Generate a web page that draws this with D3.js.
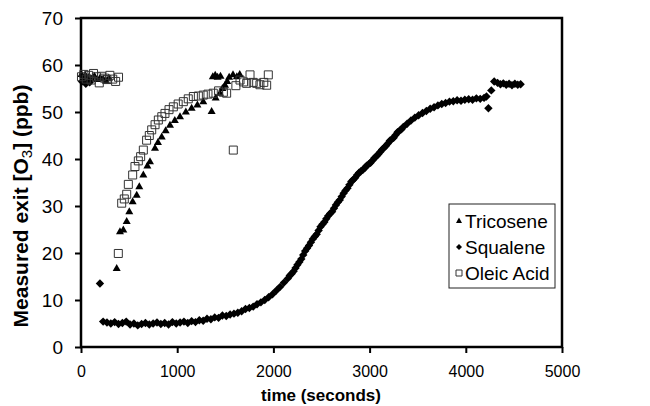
<!DOCTYPE html>
<html>
<head>
<meta charset="utf-8">
<script src="https://cdn.jsdelivr.net/npm/d3@7"></script>
<style>
	body { margin: 0; background: #fff; }
	text { font-family: Arial, "Liberation Sans", sans-serif; }
</style>
</head>
<body>
<div id="chart"></div>
<script>
// Data: [time (s), exit O3 (ppb)]
var tricosene = [
	[5,58],[25,57.2],[45,57.8],[65,56.8],[85,57.5],[110,57],[140,57.6],[170,56.9],[200,57.3],[230,57],[260,56.6],[290,57.2],
	[371,16.7],[405,24.5],[440,24.9],[475,26.7],[502,28.8],[537,30.9],[579,32.3],[606,34.1],[648,36.6],[690,38.5],
	[717,39.4],[769,42.3],[800,43.5],[839,44.7],[880,46],[925,47.2],[975,48.2],[1029,49],[1090,50],[1150,50.8],
	[1210,51.5],[1271,52.2],[1358,50.1],[1400,53],[1445,54],[1470,55],[1497,55.7],[1520,56.5],
	[1370,57.5],[1395,57.8],[1420,57.4],[1450,57.6],[1540,57.4],[1580,57.9],[1620,57.5],[1650,58]
];

var squalene = [
	[10,56.5],[30,57],[50,56],[70,56.8],[90,56.3],[197,13.5],
	[230,5.4],[270,5.2],[310,5.0],[350,5.3],[390,4.9],[430,5.1],[470,5.4],[510,4.8],[550,5.0],[590,4.6],
	[630,4.9],[670,5.1],[710,4.8],[750,5.0],[790,5.2],[830,4.9],[870,5.1],[910,4.8],[950,5.3],[990,5.0],
	[1030,5.2],[1070,5.4],[1110,5.1],[1150,5.5],[1190,5.3],[1230,5.7],[1270,5.6],[1310,6.0],[1350,5.9],
	[1390,6.3],[1430,6.2],[1470,6.7],[1510,6.6],[1550,6.9],[1590,7.1],[1630,7.3],[1670,7.6],[1710,8.1],
	[1750,8.3],[1790,8.6],[1830,9.1],[1870,9.5],[1910,10.0],[1950,10.6],[1990,11.2],[2030,12.0],[2070,12.8],
	[2110,13.7],[2150,14.6],[2170,15.2],[2190,15.6],[2210,16.1],[2230,16.8],[2250,17.5],[2270,18.1],
	[2290,18.7],[2310,19.6],[2330,20.4],[2350,21.0],[2370,21.6],[2390,22.3],[2410,23.0],[2430,23.5],
	[2450,24.0],[2470,24.8],[2490,25.6],[2510,26.1],[2530,26.6],[2550,27.3],[2570,27.9],[2590,28.4],
	[2610,28.8],[2630,29.5],[2650,30.2],[2670,30.8],[2690,31.3],[2710,32.0],[2730,32.7],[2750,33.3],
	[2770,33.8],[2790,34.5],[2810,35.2],[2830,35.6],[2850,36.0],[2870,36.6],[2890,37.1],[2910,37.4],
	[2930,37.7],[2950,38.1],[2970,38.6],[2990,38.9],[3010,39.2],[3030,39.7],[3050,40.2],[3070,40.6],
	[3090,41.0],[3110,41.5],[3130,42.0],[3150,42.4],[3170,42.8],[3190,43.3],[3210,43.9],[3230,44.2],
	[3250,44.5],[3270,45.1],[3290,45.7],[3310,46.0],[3330,46.3],[3350,46.8],
	[3390,47.5],[3430,48.2],[3470,48.8],[3510,49.3],[3550,49.8],[3590,50.2],[3630,50.7],[3670,51.0],
	[3710,51.4],[3750,51.7],[3790,51.9],[3830,52.2],[3870,52.3],[3910,52.5],[3950,52.4],[3990,52.6],
	[4030,52.7],[4070,52.6],[4110,52.9],[4150,52.8],[4190,53.0],[4215,53.3],[4235,50.8],[4265,54.6],
	[4295,56.5],[4330,56.2],[4360,55.9],[4390,56.1],[4420,55.8],[4450,56.0],[4480,55.7],[4510,56.0],
	[4540,55.8],[4570,55.9]
];

var oleic = [
	[5,57.5],[30,58],[55,57],[80,57.8],[105,56.8],[130,58.2],[160,57.5],[190,56.2],[215,57.6],[245,57.2],
	[270,56.9],[300,57.8],[330,57],[360,56.5],[390,57.4],
	[388,19.9],[423,30.6],[450,31.5],[475,32.5],[492,34.6],[537,36.6],[561,38.4],[596,39.6],[620,40.5],
	[648,41.9],[682,44],[710,45],[735,46.2],[770,47.3],[804,48.3],[840,49],[873,49.7],[915,50.5],[960,51.1],
	[1010,51.7],[1064,52.2],[1115,52.8],[1168,53.3],[1220,53.4],[1271,53.6],[1320,53.8],[1375,54],
	[1430,54.5],[1480,54.2],[1514,54],[1583,41.9],[1610,55.6],[1653,56.8],[1690,56.4],[1722,56.1],
	[1757,57.9],[1790,56.3],[1826,56.1],[1860,55.8],[1900,56.3],[1930,55.7],[1947,57.9]
];

var xTicks = [0, 1000, 2000, 3000, 4000, 5000];
var yTicks = [0, 10, 20, 30, 40, 50, 60, 70];
var seriesNames = ["Tricosene", "Squalene", "Oleic Acid"];

// Marker shapes
var shapes = {
	"Tricosene": {d: "M0,-4.5L4,2.5L-4,2.5Z", fill: "#000", stroke: "none"},
	"Squalene": {d: "M0,-4.2L4.2,0L0,4.2L-4.2,0Z", fill: "#000", stroke: "none"},
	"Oleic Acid": {d: "M-4,-4h8v8h-8Z", fill: "none", stroke: "#333"}
};
var legendShapes = {
	"Tricosene": "M0,-3.5L3,2L-3,2Z",
	"Squalene": "M0,-3L3,0L0,3L-3,0Z",
	"Oleic Acid": "M-3,-3h6v6h-6Z"
};

var w = 650, h = 406;
// plot box edges (window.top is taken, so prefixed names)
var pLeft = 81, pRight = 562, pTop = 18, pBottom = 347;

var svg = d3.select("#chart").append("svg").attr("width", w).attr("height", h);

var x = d3.scaleLinear().domain([0, 5000]).range([pLeft, pRight]);
var y = d3.scaleLinear().domain([0, 70]).range([pBottom, pTop]);

// Axes
var xAxis = svg.append("g")
	.attr("transform", "translate(0," + pBottom + ")")
	.call(d3.axisBottom(x).tickValues(xTicks).tickSize(6).tickPadding(13).tickFormat(d3.format("d")));
var yAxis = svg.append("g")
	.attr("transform", "translate(" + pLeft + ",0)")
	.call(d3.axisLeft(y).tickValues(yTicks).tickSize(6).tickPadding(12).tickFormat(d3.format("d")));

xAxis.selectAll("text").attr("font-size", 16).attr("fill", "#000");
yAxis.selectAll("text").attr("font-size", 19).attr("fill", "#000");
svg.selectAll(".tick line").attr("stroke", "#000").attr("stroke-width", 2);
svg.selectAll(".domain").remove();

// Frame round the plot
svg.append("rect")
	.attr("x", pLeft).attr("y", pTop)
	.attr("width", pRight - pLeft).attr("height", pBottom - pTop)
	.attr("fill", "none").attr("stroke", "#000").attr("stroke-width", 2.5);

// Points
var drawSeries = function(data, name) {
	var s = shapes[name];
	svg.append("g").selectAll("path")
		.data(data)
		.enter()
		.append("path")
		.attr("d", s.d)
		.attr("transform", function(d) { return "translate(" + x(d[0]) + "," + y(d[1]) + ")"; })
		.attr("fill", s.fill)
		.attr("stroke", s.stroke)
		.attr("stroke-width", 1);
};
drawSeries(tricosene, "Tricosene");
drawSeries(squalene, "Squalene");
drawSeries(oleic, "Oleic Acid");

// Axis titles
svg.append("text")
	.attr("x", 321).attr("y", 401)
	.attr("text-anchor", "middle")
	.attr("font-size", 17).attr("font-weight", "bold")
	.text("time (seconds)");

var yt = svg.append("text")
	.attr("transform", "translate(28,206) rotate(-90)")
	.attr("text-anchor", "middle")
	.attr("font-size", 21).attr("font-weight", "bold");
yt.append("tspan").text("Measured exit [O");
yt.append("tspan").attr("font-size", 15).attr("font-weight", "normal").attr("dy", 4).text("3");
yt.append("tspan").attr("dy", -4).text("] (ppb)");

// Legend
var lg = svg.append("g").attr("transform", "translate(449,204)");
lg.append("rect").attr("width", 106).attr("height", 84)
	.attr("fill", "#fff").attr("stroke", "#222").attr("stroke-width", 1);
var items = lg.selectAll("g.item")
	.data(seriesNames)
	.enter()
	.append("g")
	.attr("transform", function(d, i) { return "translate(10," + (17 + i * 26) + ")"; });
items.append("path")
	.attr("d", function(d) { return legendShapes[d]; })
	.attr("fill", function(d) { return shapes[d].fill; })
	.attr("stroke", function(d) { return shapes[d].stroke; })
	.attr("stroke-width", 1);
items.append("text")
	.attr("x", 6).attr("dy", "0.35em")
	.attr("font-size", 19)
	.text(function(d) { return d; });
</script>
</body>
</html>
